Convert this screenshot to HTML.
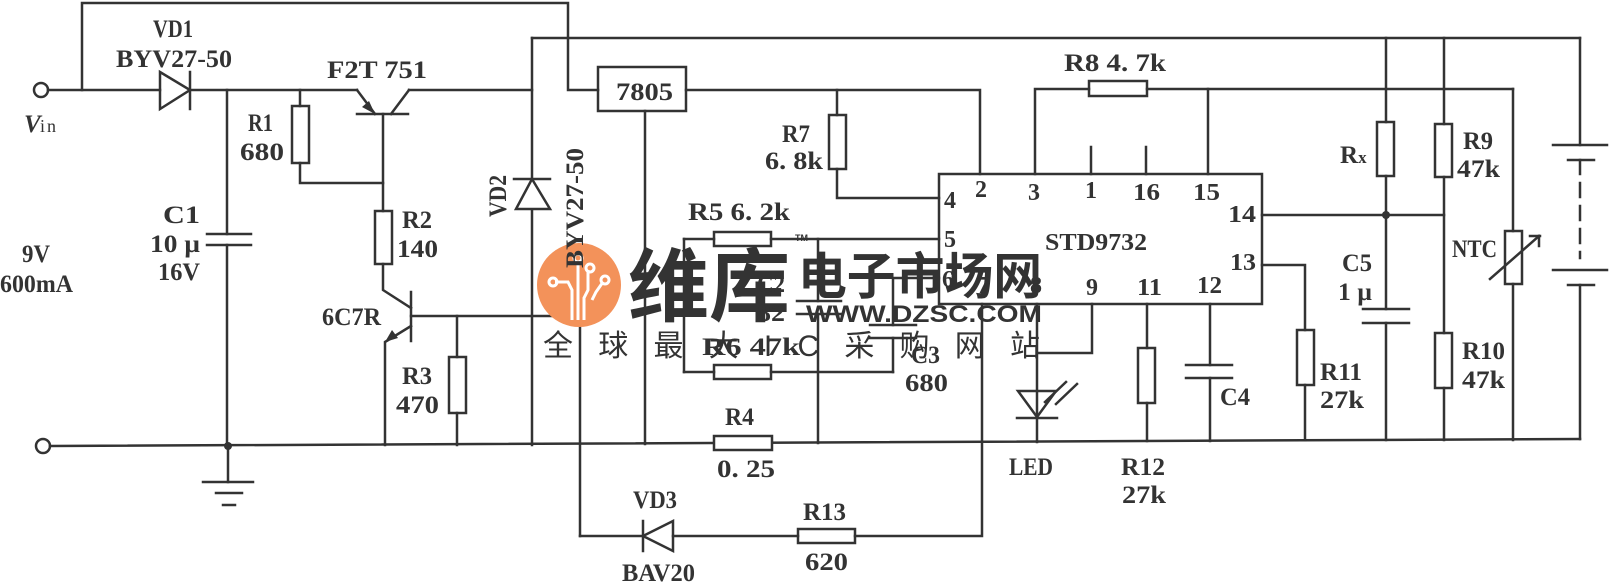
<!DOCTYPE html>
<html><head><meta charset="utf-8"><style>
html,body{margin:0;padding:0;background:#fff;}
svg{display:block;}
text{font-family:"Liberation Serif",serif;font-weight:bold;fill:#333;}
.wm{font-family:"Liberation Sans","Noto Sans CJK SC",sans-serif;}
</style></head><body>
<svg width="1610" height="584" viewBox="0 0 1610 584" xmlns="http://www.w3.org/2000/svg">
<g stroke="#333" stroke-width="2.5" fill="none" stroke-linecap="square">
<polyline points="82,90 82,3 568,3 568,90 598,90"/>
<line x1="48" y1="90" x2="160" y2="90"/>
<line x1="190" y1="90" x2="357" y2="90"/>
<line x1="409" y1="90" x2="532" y2="90"/>
<circle cx="41" cy="90" r="7"/>
<circle cx="43" cy="446" r="7"/>
<polygon points="160,72 160,109 190,90"/>
<line x1="190" y1="72" x2="190" y2="109"/>
<line x1="227" y1="90" x2="227" y2="234"/>
<line x1="207" y1="234" x2="251" y2="234"/>
<line x1="207" y1="245" x2="251" y2="245"/>
<line x1="227" y1="245" x2="227" y2="446"/>
<line x1="50" y1="446" x2="1580" y2="439"/>
<line x1="228" y1="446" x2="228" y2="482"/>
<line x1="203" y1="482" x2="253" y2="482"/>
<line x1="216" y1="493" x2="242" y2="493"/>
<line x1="223" y1="505" x2="235" y2="505"/>
<line x1="300" y1="90" x2="300" y2="106"/>
<rect x="292" y="106" width="17" height="57"/>
<polyline points="300,163 300,183 383,183"/>
<line x1="357" y1="90" x2="375" y2="114"/>
<line x1="357" y1="114" x2="408" y2="114"/>
<line x1="391" y1="114" x2="409" y2="90"/>
<line x1="383" y1="114" x2="383" y2="211"/>
<rect x="375" y="211" width="17" height="53"/>
<polyline points="383,264 383,290 411,308"/>
<line x1="411" y1="292" x2="411" y2="341"/>
<line x1="411" y1="316" x2="580" y2="316"/>
<polyline points="411,326 385,342 385,445"/>
<line x1="457" y1="316" x2="457" y2="357"/>
<rect x="449" y="357" width="17" height="56"/>
<line x1="457" y1="413" x2="457" y2="445"/>
<line x1="532" y1="38" x2="532" y2="445"/>
<line x1="532" y1="38" x2="1580" y2="38"/>
<polygon points="516,209 550,209 532,179" fill="#fff"/>
<line x1="514" y1="179" x2="550" y2="179"/>
<rect x="598" y="67" width="88" height="44"/>
<line x1="645" y1="111" x2="645" y2="444"/>
<polyline points="686,90 980,90 980,174"/>
<line x1="837" y1="90" x2="837" y2="115"/>
<rect x="829" y="115" width="17" height="54"/>
<polyline points="837,169 837,198 939,198"/>
<rect x="939" y="174" width="323" height="130"/>
<line x1="684" y1="239" x2="714" y2="239"/>
<rect x="714" y="232" width="57" height="14"/>
<line x1="771" y1="239" x2="939" y2="239"/>
<line x1="684" y1="239" x2="684" y2="372"/>
<line x1="684" y1="372" x2="714" y2="372"/>
<rect x="714" y="365" width="57" height="14"/>
<line x1="771" y1="372" x2="893" y2="372"/>
<line x1="818" y1="239" x2="818" y2="301"/>
<line x1="797" y1="301" x2="841" y2="301"/>
<line x1="797" y1="314" x2="841" y2="314"/>
<line x1="818" y1="314" x2="818" y2="443"/>
<polyline points="939,278 893,278 893,325"/>
<line x1="870" y1="325" x2="916" y2="325"/>
<line x1="870" y1="338" x2="916" y2="338"/>
<line x1="893" y1="338" x2="893" y2="372"/>
<rect x="714" y="436" width="58" height="14" fill="#fff"/>
<line x1="580" y1="316" x2="580" y2="536"/>
<line x1="580" y1="536" x2="643" y2="536"/>
<polygon points="643,536 673,521 673,551"/>
<line x1="643" y1="521" x2="643" y2="551"/>
<line x1="673" y1="536" x2="798" y2="536"/>
<rect x="798" y="529" width="57" height="14"/>
<polyline points="855,536 982,536 982,304"/>
<polyline points="1035,174 1035,89 1089,89"/>
<rect x="1089" y="81" width="58" height="15"/>
<line x1="1147" y1="89" x2="1513" y2="89"/>
<line x1="1208" y1="89" x2="1208" y2="174"/>
<line x1="1091" y1="147" x2="1091" y2="174"/>
<line x1="1146" y1="147" x2="1146" y2="174"/>
<line x1="1037" y1="304" x2="1037" y2="442"/>
<polyline points="1092,304 1092,353 1037,353"/>
<polygon points="1018,391 1056,391 1037,417"/>
<line x1="1017" y1="418" x2="1057" y2="418"/>
<line x1="1045" y1="402" x2="1066" y2="382"/>
<line x1="1056" y1="404" x2="1077" y2="384"/>
<line x1="1147" y1="304" x2="1147" y2="348"/>
<rect x="1138" y="348" width="17" height="55"/>
<line x1="1147" y1="403" x2="1147" y2="441"/>
<line x1="1210" y1="304" x2="1210" y2="365"/>
<line x1="1186" y1="365" x2="1232" y2="365"/>
<line x1="1186" y1="378" x2="1232" y2="378"/>
<line x1="1210" y1="378" x2="1210" y2="441"/>
<polyline points="1262,265 1305,265 1305,330"/>
<rect x="1297" y="330" width="17" height="55"/>
<line x1="1305" y1="385" x2="1305" y2="440"/>
<line x1="1262" y1="215" x2="1444" y2="215"/>
<line x1="1386" y1="38" x2="1386" y2="122"/>
<rect x="1377" y="122" width="17" height="54"/>
<line x1="1386" y1="176" x2="1386" y2="309"/>
<line x1="1363" y1="309" x2="1409" y2="309"/>
<line x1="1363" y1="323" x2="1409" y2="323"/>
<line x1="1386" y1="323" x2="1386" y2="440"/>
<line x1="1444" y1="38" x2="1444" y2="124"/>
<rect x="1435" y="124" width="17" height="53"/>
<line x1="1444" y1="177" x2="1444" y2="333"/>
<rect x="1435" y="333" width="17" height="55"/>
<line x1="1444" y1="388" x2="1444" y2="440"/>
<line x1="1513" y1="89" x2="1513" y2="231"/>
<rect x="1505" y="231" width="17" height="53"/>
<line x1="1513" y1="284" x2="1513" y2="440"/>
<line x1="1490" y1="279" x2="1539" y2="236"/>
<line x1="1530" y1="236" x2="1540" y2="236"/>
<line x1="1539" y1="236" x2="1539" y2="246"/>
<line x1="1580" y1="38" x2="1580" y2="145"/>
<line x1="1553" y1="145" x2="1607" y2="145"/>
<line x1="1568" y1="160" x2="1594" y2="160"/>
<line x1="1580" y1="160" x2="1580" y2="258" stroke-dasharray="14,9"/>
<line x1="1553" y1="270" x2="1607" y2="270"/>
<line x1="1568" y1="285" x2="1594" y2="285"/>
<line x1="1580" y1="285" x2="1580" y2="439"/>
</g>
<g fill="#333">
<circle cx="228" cy="446" r="4"/>
<circle cx="1386" cy="215" r="4"/>
<polygon points="375,114 362,107 369,101"/>
<polygon points="385,342 392,330 398,338"/>
</g>
<g>
<circle cx="579" cy="285" r="42" fill="#f3925a"/>
<g stroke="#fff" stroke-width="3" fill="none">
<polyline points="555,282 568,282 572,290 572,320"/>
<polyline points="578,262 578,320"/>
<polyline points="588,270 588,290 584,298 584,320"/>
<polyline points="603,282 596,292 592,300"/>
<circle cx="553" cy="282" r="4"/><circle cx="578" cy="258" r="4"/><circle cx="590" cy="268" r="4"/><circle cx="605" cy="280" r="4"/>
</g>
<text class="wm" x="628" y="315" font-size="80" fill="#f3925a" textLength="162" lengthAdjust="spacingAndGlyphs" style="font-weight:bold">维库</text>
<text class="wm" x="798" y="294" font-size="50" fill="#f3925a" textLength="244" lengthAdjust="spacingAndGlyphs" style="font-weight:bold">电子市场网</text>
<text class="wm" x="806" y="322" font-size="24" fill="#f3925a" textLength="236" lengthAdjust="spacingAndGlyphs" style="font-weight:bold">WWW.DZSC.COM</text>
<text class="wm" x="795" y="241" font-size="9" fill="#f3925a">TM</text>
<text class="wm" x="543" y="356" font-size="30" fill="#f5a57c" textLength="497" lengthAdjust="spacing" style="font-weight:normal">全球最大IC采购网站</text>
</g>
<g font-size="25">
<text x="153" y="37" textLength="40" lengthAdjust="spacingAndGlyphs">VD1</text>
<text x="116" y="67" textLength="116" lengthAdjust="spacingAndGlyphs">BYV27-50</text>
<text x="327" y="78" textLength="100" lengthAdjust="spacingAndGlyphs">F2T  751</text>
<text x="24" y="132" font-style="italic">V</text><text x="40" y="132" font-size="18" style="font-weight:normal" letter-spacing="2">in</text>
<text x="248" y="131" textLength="25" lengthAdjust="spacingAndGlyphs">R1</text>
<text x="240" y="160" textLength="44" lengthAdjust="spacingAndGlyphs">680</text>
<text x="163" y="223" textLength="37" lengthAdjust="spacingAndGlyphs">C1</text>
<text x="150" y="252" textLength="50" lengthAdjust="spacingAndGlyphs">10 µ</text>
<text x="158" y="280" textLength="42" lengthAdjust="spacingAndGlyphs">16V</text>
<text x="22" y="262" textLength="28" lengthAdjust="spacingAndGlyphs">9V</text>
<text x="0" y="292" textLength="73" lengthAdjust="spacingAndGlyphs">600mA</text>
<text x="402" y="228" textLength="30" lengthAdjust="spacingAndGlyphs">R2</text>
<text x="397" y="257" textLength="41" lengthAdjust="spacingAndGlyphs">140</text>
<text x="322" y="325" textLength="59" lengthAdjust="spacingAndGlyphs">6C7R</text>
<text x="402" y="384" textLength="30" lengthAdjust="spacingAndGlyphs">R3</text>
<text x="396" y="413" textLength="43" lengthAdjust="spacingAndGlyphs">470</text>
<text transform="translate(506,217) rotate(-90)" textLength="42" lengthAdjust="spacingAndGlyphs">VD2</text>
<text transform="translate(583,268) rotate(-90)" textLength="120" lengthAdjust="spacingAndGlyphs">BYV27-50</text>
<text x="616" y="100" textLength="57" lengthAdjust="spacingAndGlyphs">7805</text>
<text x="782" y="142" textLength="28" lengthAdjust="spacingAndGlyphs">R7</text>
<text x="765" y="169" textLength="58" lengthAdjust="spacingAndGlyphs">6. 8k</text>
<text x="688" y="220" textLength="102" lengthAdjust="spacingAndGlyphs">R5  6. 2k</text>
<text x="757" y="292" textLength="28" lengthAdjust="spacingAndGlyphs">C2</text>
<text x="757" y="321" textLength="28" lengthAdjust="spacingAndGlyphs">82</text>
<text x="702" y="355" textLength="98" lengthAdjust="spacingAndGlyphs">R6  47k</text>
<text x="911" y="363" textLength="29" lengthAdjust="spacingAndGlyphs">C3</text>
<text x="905" y="391" textLength="43" lengthAdjust="spacingAndGlyphs">680</text>
<text x="725" y="425" textLength="29" lengthAdjust="spacingAndGlyphs">R4</text>
<text x="717" y="477" textLength="58" lengthAdjust="spacingAndGlyphs">0. 25</text>
<text x="633" y="508" textLength="44" lengthAdjust="spacingAndGlyphs">VD3</text>
<text x="622" y="581" textLength="73" lengthAdjust="spacingAndGlyphs">BAV20</text>
<text x="803" y="520" textLength="43" lengthAdjust="spacingAndGlyphs">R13</text>
<text x="805" y="570" textLength="43" lengthAdjust="spacingAndGlyphs">620</text>
<text x="1009" y="475" textLength="44" lengthAdjust="spacingAndGlyphs">LED</text>
<text x="1121" y="475" textLength="44" lengthAdjust="spacingAndGlyphs">R12</text>
<text x="1122" y="503" textLength="44" lengthAdjust="spacingAndGlyphs">27k</text>
<text x="1220" y="405" textLength="30" lengthAdjust="spacingAndGlyphs">C4</text>
<text x="1320" y="380" textLength="42" lengthAdjust="spacingAndGlyphs">R11</text>
<text x="1320" y="408" textLength="44" lengthAdjust="spacingAndGlyphs">27k</text>
<text x="1342" y="271" textLength="30" lengthAdjust="spacingAndGlyphs">C5</text>
<text x="1338" y="300" textLength="34" lengthAdjust="spacingAndGlyphs">1 µ</text>
<text x="1340" y="163">R<tspan font-size="17">x</tspan></text>
<text x="1463" y="149" textLength="30" lengthAdjust="spacingAndGlyphs">R9</text>
<text x="1457" y="177" textLength="43" lengthAdjust="spacingAndGlyphs">47k</text>
<text x="1452" y="257" textLength="45" lengthAdjust="spacingAndGlyphs">NTC</text>
<text x="1462" y="359" textLength="43" lengthAdjust="spacingAndGlyphs">R10</text>
<text x="1462" y="388" textLength="43" lengthAdjust="spacingAndGlyphs">47k</text>
<text x="1064" y="71" textLength="102" lengthAdjust="spacingAndGlyphs">R8  4. 7k</text>
</g>
<g font-size="24">
<text x="975" y="197">2</text>
<text x="1028" y="200">3</text>
<text x="1085" y="198">1</text>
<text x="1133" y="200" textLength="27" lengthAdjust="spacingAndGlyphs">16</text>
<text x="1193" y="200" textLength="27" lengthAdjust="spacingAndGlyphs">15</text>
<text x="1228" y="222" textLength="28" lengthAdjust="spacingAndGlyphs">14</text>
<text x="944" y="208">4</text>
<text x="944" y="247">5</text>
<text x="1045" y="250" textLength="102" lengthAdjust="spacingAndGlyphs">STD9732</text>
<text x="942" y="287">6</text>
<text x="977" y="293">7</text>
<text x="1030" y="293">8</text>
<text x="1086" y="295">9</text>
<text x="1137" y="295" textLength="25" lengthAdjust="spacingAndGlyphs">11</text>
<text x="1197" y="293" textLength="25" lengthAdjust="spacingAndGlyphs">12</text>
<text x="1230" y="270" textLength="26" lengthAdjust="spacingAndGlyphs">13</text>
</g>
</svg>
</body></html>
